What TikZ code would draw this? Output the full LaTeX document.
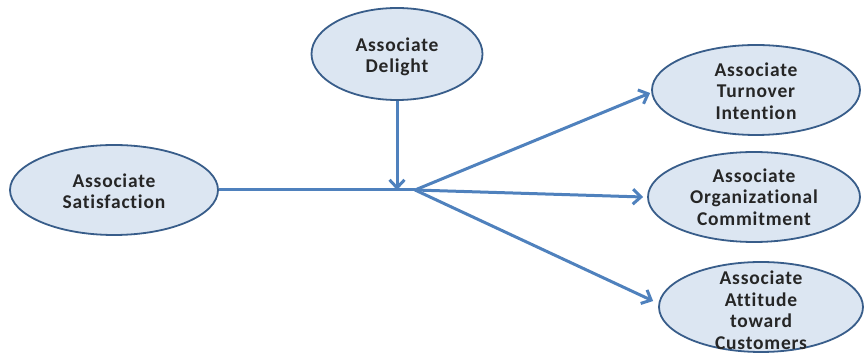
\documentclass[tikz,border=0pt]{standalone}
\usepackage{fontspec}
\setmainfont{Carlito}[Ligatures=NoCommon, LetterSpace=4]
\usetikzlibrary{shapes.geometric,arrows.meta}
\definecolor{lineblue}{RGB}{79,129,189}
\definecolor{ellfill}{RGB}{220,230,242}
\definecolor{elldraw}{RGB}{56,93,138}
\tikzset{
  oval/.style={ellipse, draw=elldraw, fill=ellfill, line width=1.8pt, inner sep=0pt},
  lbl/.style={align=center, font=\fontsize{19.5}{21.5}\selectfont\bfseries, text=black!85},
  conn/.style={draw=lineblue, line width=3pt},
  arr/.style={conn, -{Straight Barb[length=8pt,width=15pt]}}
}
\begin{document}
\begin{tikzpicture}[x=1pt,y=1pt]
\useasboundingbox (0,0) rectangle (864,353);
\node[oval, minimum width=208pt, minimum height=90pt] (sat) at (114,163) {};
\node[oval, minimum width=171pt, minimum height=92pt] (del) at (397,299) {};
\node[oval, minimum width=208pt, minimum height=90pt] (turn) at (756,263) {};
\node[oval, minimum width=212pt, minimum height=90pt] (comm) at (754,156) {};
\node[oval, minimum width=204pt, minimum height=90pt] (att) at (761,46) {};
\node[lbl] (satt) at (114,162) {Associate\\Satisfaction};
\node[lbl] (delt) at (397,296) {Associate\\Delight};
\node[lbl] (turnt) at (756,262) {Associate\\Turnover\\Intention};
\node[lbl] (commt) at (754,156) {Associate\\Organizational\\Commitment};
\node[lbl] (attt) at (761,43) {Associate\\Attitude\\toward\\Customers};
\coordinate (j) at (415,163);
\coordinate (m) at (397,163);
\draw[conn] (sat.east) -- (j);
\draw[arr] (del.south) -- (m);
\draw[arr] (j) -- ([xshift=-1pt,yshift=-3pt]turn.west);
\draw[arr] (j) -- ([xshift=-4pt]comm.west);
\draw[arr] (j) -- ([xshift=-5pt,yshift=6pt]att.west);
\end{tikzpicture}
\end{document}
